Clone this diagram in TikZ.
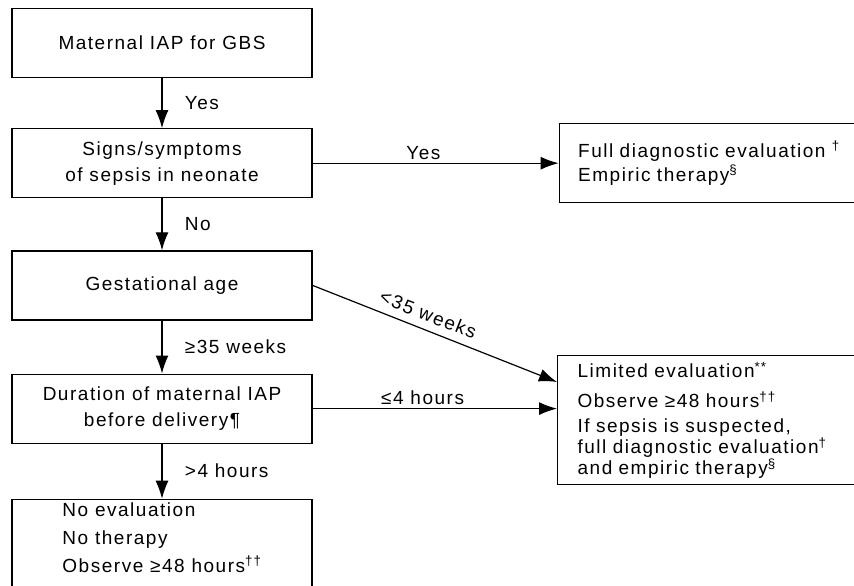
\documentclass[tikz,border=0pt]{standalone}
\usepackage{fontspec}
\setmainfont[LetterSpace=8]{Liberation Sans}
\usetikzlibrary{arrows.meta,positioning}

\begin{document}
\begin{tikzpicture}[
			x=1pt, y=-1pt,
			> = {Latex[length=18pt,width=13pt]}, % arrow head style
			line width=1.2pt, % line style
			auto,
			node distance = 52pt, % gap between boxes
			font=\fontsize{19}{26}\selectfont,
			box/.style={draw, rectangle, align=center, minimum width=300pt, minimum height=69pt, inner sep=0pt}
			]
			
			\clip (0,0) rectangle (854,586);
			\fill[white] (0,0) rectangle (854,586);
			
			\node[box] (iap) at (162,43) {Maternal IAP for GBS};
			\node[box] (signs) [below=50pt of iap] {Signs/symptoms\\of sepsis in neonate};
			\node[box] (gest) [below=52pt of signs] {Gestational age};
			\node[box] (dur) [below=53pt of gest] {Duration of maternal IAP\\before delivery¶};
			\node[box, align=left, minimum height=96pt, font=\fontsize{19}{28}\selectfont] (noeval) [below=55pt of dur] {No evaluation\\No therapy\\Observe ≥48 hours\textsuperscript{††}\\[-8pt]\mbox{}};
			\node[draw, align=left, text width=300pt, inner xsep=19pt, minimum height=79pt, font=\fontsize{19}{24}\selectfont] (full) [right=246pt of signs] {Full diagnostic evaluation \textsuperscript{†}\\Empiric therapy\textsuperscript{§}};
			\node[draw, align=left, text width=300pt, inner xsep=20pt, minimum height=129pt, anchor=north west, font=\fontsize{19}{21}\selectfont] (lim) at (557,355) {Limited evaluation\textsuperscript{**}\\[9pt]Observe ≥48 hours\textsuperscript{††}\\[4pt]If sepsis is suspected,\\full diagnostic evaluation\textsuperscript{†}\\and empiric therapy\textsuperscript{§}};
			\coordinate (early) at ([yshift=-27pt]lim.north west); % where the <35 weeks arrow lands
			
			\path[->]
			(iap) 	edge node[right=19pt] {Yes} (signs)
			(signs) edge node[right=19pt] {No} (gest)
			edge node[pos=0.45] {Yes} (full)
			(gest) 	edge node[right=19pt] {≥35 weeks} (dur)
			(gest.east) edge node[sloped, pos=0.45, inner sep=8pt] {<35 weeks} (early)
			(dur) 	edge node[right=19pt] {>4 hours} (noeval)
			edge node[pos=0.45] {≤4 hours} (dur -| lim.west);
			
		\end{tikzpicture}
\end{document}
